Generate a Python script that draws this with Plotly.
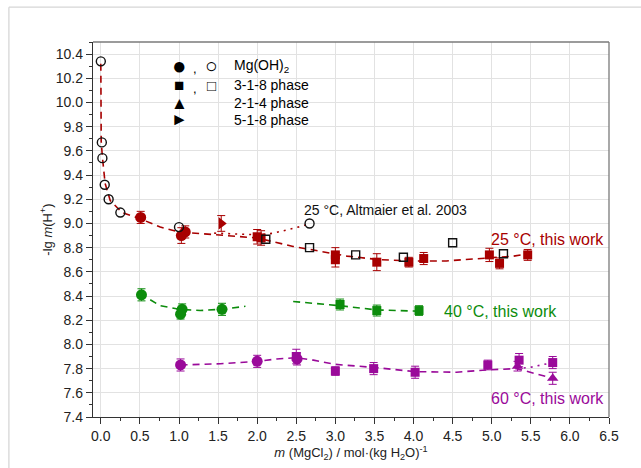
import plotly.graph_objects as go

# ---------------- data ----------------
# Altmaier et al. 2003 (open symbols)
alt_oh_x = [0.0, 0.013, 0.02, 0.05, 0.10, 0.25, 1.0, 2.67]
alt_oh_y = [10.34, 9.67, 9.54, 9.32, 9.20, 9.09, 8.97, 9.00]
alt_318_x = [2.11, 2.67, 3.26, 3.87, 4.50, 5.15]
alt_318_y = [8.87, 8.80, 8.74, 8.72, 8.84, 8.75]

# 25 C this work
r_oh_x = [0.51, 1.03, 1.08]
r_oh_y = [9.05, 8.90, 8.93]
r_oh_e = [0.05, 0.065, 0.05]
r_518_x = [1.54]
r_518_y = [9.00]
r_518_e = [0.065]
r_318_x = [2.00, 2.05, 3.00, 3.00, 3.53, 3.94, 4.13, 4.97, 5.10, 5.46]
r_318_y = [8.89, 8.88, 8.74, 8.70, 8.68, 8.68, 8.71, 8.74, 8.67, 8.74]
r_318_e = [0.06, 0.06, 0.06, 0.06, 0.07, 0.04, 0.05, 0.055, 0.045, 0.045]

# 40 C this work
g_oh_x = [0.52, 1.04, 1.02, 1.55]
g_oh_y = [8.41, 8.29, 8.25, 8.29]
g_oh_e = [0.05, 0.045, 0.04, 0.05]
g_318_x = [3.06, 3.53, 4.07]
g_318_y = [8.33, 8.28, 8.28]
g_318_e = [0.045, 0.045, 0.04]

# 60 C this work
p_oh_x = [1.02, 2.00, 2.51]
p_oh_y = [7.83, 7.86, 7.88]
p_oh_e = [0.05, 0.05, 0.05]
p_318_x = [2.50, 3.00, 3.49, 4.02, 4.95, 5.35, 5.78]
p_318_y = [7.90, 7.78, 7.80, 7.77, 7.83, 7.87, 7.85]
p_318_e = [0.06, 0.035, 0.05, 0.05, 0.04, 0.055, 0.05]
p_214_x = [5.33, 5.78]
p_214_y = [7.82, 7.72]
p_214_e = [0.04, 0.05]

# model curves
r_fit_x = [0.0, 0.005, 0.02, 0.055, 0.12, 0.27, 0.5, 0.76, 1.0, 1.27, 1.53, 2.0,
           2.46, 2.72, 3.15, 3.57, 4.0, 4.42, 4.85, 5.28, 5.47]
r_fit_y = [10.32, 9.68, 9.55, 9.33, 9.19, 9.09, 9.04, 8.97, 8.93, 8.915, 8.905, 8.88,
           8.81, 8.78, 8.73, 8.70, 8.69, 8.69, 8.71, 8.73, 8.75]
alt_fit_x = [1.45, 1.66, 1.87, 2.05, 2.21, 2.42, 2.59, 2.67]
alt_fit_y = [8.92, 8.915, 8.905, 8.905, 8.92, 8.95, 8.98, 9.00]
g_fit_x = [0.5, 0.76, 1.01, 1.27, 1.53, 1.85, None, 2.46, 3.06, 3.53, 4.07]
g_fit_y = [8.42, 8.32, 8.29, 8.28, 8.29, 8.315, None, 8.355, 8.32, 8.285, 8.275]
p_fit_x = [1.02, 1.53, 2.0, 2.25, 2.5, 2.72, 3.0, 3.49, 4.02, 4.55, 4.95, 5.32, 5.78]
p_fit_y = [7.83, 7.84, 7.86, 7.88, 7.89, 7.87, 7.835, 7.81, 7.775, 7.77, 7.79, 7.80, 7.72]
p_dot_x = [5.32, 5.49, 5.78]
p_dot_y = [7.80, 7.81, 7.85]

x_ticks = [0.0, 0.5, 1.0, 1.5, 2.0, 2.5, 3.0, 3.5, 4.0, 4.5, 5.0, 5.5, 6.0, 6.5]
y_ticks = [7.4, 7.6, 7.8, 8.0, 8.2, 8.4, 8.6, 8.8, 9.0, 9.2, 9.4, 9.6, 9.8, 10.0, 10.2, 10.4]

# ---------------- styles ----------------
RED = "#A80000"
GREEN = "#0C8C0C"
PURPLE = "#9A0A9A"
FONT = "Liberation Sans, Arial, sans-serif"

fig = go.Figure()

def line(x, y, color, dash):
    fig.add_trace(go.Scatter(x=x, y=y, mode="lines", line=dict(color=color, width=1.6, dash=dash),
                             hoverinfo="skip", showlegend=False, connectgaps=False))

line(r_fit_x, r_fit_y, RED, "7px,5px")
line(alt_fit_x, alt_fit_y, RED, "2px,5px")
line(g_fit_x, g_fit_y, GREEN, "7px,5px")
line(p_fit_x, p_fit_y, PURPLE, "7px,5px")
line(p_dot_x, p_dot_y, PURPLE, "2px,5px")

def pts(x, y, e, color, symbol, size):
    fig.add_trace(go.Scatter(
        x=x, y=y, mode="markers",
        marker=dict(color=color, symbol=symbol, size=size, line=dict(width=0)),
        error_y=dict(type="data", array=e, visible=True, color=color, thickness=1, width=4),
        showlegend=False))

pts(r_oh_x, r_oh_y, r_oh_e, RED, "circle", 11)
pts(r_518_x, r_518_y, r_518_e, RED, "triangle-right", 11)
pts(r_318_x, r_318_y, r_318_e, RED, "square", 9)
pts(g_oh_x, g_oh_y, g_oh_e, GREEN, "circle", 11)
pts(g_318_x, g_318_y, g_318_e, GREEN, "square", 9)
pts(p_oh_x, p_oh_y, p_oh_e, PURPLE, "circle", 11)
pts(p_318_x, p_318_y, p_318_e, PURPLE, "square", 9)
pts(p_214_x, p_214_y, p_214_e, PURPLE, "triangle-up", 10)

fig.add_trace(go.Scatter(x=alt_oh_x, y=alt_oh_y, mode="markers",
                         marker=dict(symbol="circle-open", size=9, color="#111111", line=dict(width=1.4)),
                         showlegend=False))
fig.add_trace(go.Scatter(x=alt_318_x, y=alt_318_y, mode="markers",
                         marker=dict(symbol="square-open", size=8, color="#111111", line=dict(width=1.4)),
                         showlegend=False))

annotations = [
    dict(x=2.57, y=9.113, text="25 °C, Altmaier et al. 2003", font=dict(size=14, color="#111111")),
    dict(x=4.96, y=8.87, text="25 °C, this work", font=dict(size=16, color=RED)),
    dict(x=4.37, y=8.276, text="40 °C, this work", font=dict(size=16, color=GREEN)),
    dict(x=4.97, y=7.55, text="60 °C, this work", font=dict(size=16, color=PURPLE)),
]
for a in annotations:
    a.update(xref="x", yref="y", xanchor="left", yanchor="middle", showarrow=False)

# legend made of text: (filled glyph, its size, open glyph, its size, label, row y)
leg_rows = [("●", 24, "○", 21, "Mg(OH)<sub>2</sub>", 0.936),
            ("■", 17, "□", 15, "3-1-8 phase", 0.885),
            ("▲", 17, "", 0, "2-1-4 phase", 0.837),
            ("►", 17, "", 0, "5-1-8 phase", 0.792)]
for fill, fs, opn, osz, label, yy in leg_rows:
    annotations.append(dict(x=0.1667, y=yy, text=fill, xref="paper", yref="paper", showarrow=False,
                            xanchor="center", yanchor="middle", borderpad=0,
                            font=dict(size=fs, color="#000000")))
    if opn:
        annotations.append(dict(x=0.1977, y=yy - 0.008, text=",", xref="paper", yref="paper", showarrow=False,
                                xanchor="center", yanchor="middle", borderpad=0,
                                font=dict(size=13, color="#000000")))
        annotations.append(dict(x=0.2287, y=yy, text=opn, xref="paper", yref="paper", showarrow=False,
                                xanchor="center", yanchor="middle", borderpad=0,
                                font=dict(size=osz, color="#000000")))
    annotations.append(dict(x=0.2694, y=yy, text=label, xref="paper", yref="paper", showarrow=False,
                            xanchor="left", yanchor="middle", font=dict(size=14, color="#000000")))

shapes = [
    # legend background
    dict(type="rect", xref="paper", yref="paper", x0=0.124, x1=0.434, y0=0.765, y1=0.965,
         fillcolor="white", line=dict(width=0), layer="between"),
    # top & right frame
    dict(type="line", xref="paper", yref="paper", x0=0, x1=1, y0=1, y1=1,
         line=dict(color="#7a7a7a", width=1.3)),
    dict(type="line", xref="paper", yref="paper", x0=1, x1=1, y0=0, y1=1,
         line=dict(color="#7a7a7a", width=1.3)),
    # outer light frame
    dict(type="line", xref="paper", yref="paper", x0=-0.163, x1=1.1, y0=1.093, y1=1.093,
         line=dict(color="#d6d6d6", width=1.3)),
    dict(type="line", xref="paper", yref="paper", x0=-0.163, x1=-0.163, y0=-0.2, y1=1.093,
         line=dict(color="#d6d6d6", width=1.3)),
]

fig.update_layout(
    width=641, height=468,
    margin=dict(l=93, r=32, t=42, b=51),
    paper_bgcolor="white", plot_bgcolor="white",
    font=dict(family=FONT, size=13, color="#222222"),
    showlegend=False,
    annotations=annotations,
    shapes=shapes,
    xaxis=dict(range=[-0.1, 6.5], tickvals=x_ticks, ticktext=[f"{v:.1f}" for v in x_ticks],
               showgrid=True, gridcolor="#e2e2e2", gridwidth=1, zeroline=False,
               showline=True, linecolor="#333333", linewidth=1.3,
               ticks="outside", ticklen=6, tickcolor="#333333", tickwidth=1.2,
               minor=dict(ticks="outside", ticklen=3, tickcolor="#333333", dtick=0.25, tick0=0, showgrid=False),
               title=dict(text="<i>m</i> (MgCl<sub>2</sub>) / mol·(kg H<sub>2</sub>O)<sup>-1</sup>",
                          font=dict(size=13), standoff=4),
               tickfont=dict(size=14)),
    yaxis=dict(range=[7.4, 10.5], tickvals=y_ticks, ticktext=[f"{v:.1f}" for v in y_ticks],
               showgrid=True, gridcolor="#e2e2e2", gridwidth=1, zeroline=False,
               showline=True, linecolor="#333333", linewidth=1.3,
               ticks="outside", ticklen=6, tickcolor="#333333", tickwidth=1.2,
               minor=dict(ticks="outside", ticklen=3, tickcolor="#333333", dtick=0.1, tick0=7.4, showgrid=False),
               title=dict(text="-lg <i>m</i>(H<sup>+</sup>)", font=dict(size=13), standoff=0),
               tickfont=dict(size=14)),
)

fig.write_html("out.html", config={"displayModeBar": False},
               post_script="document.body.style.margin='0px';")
